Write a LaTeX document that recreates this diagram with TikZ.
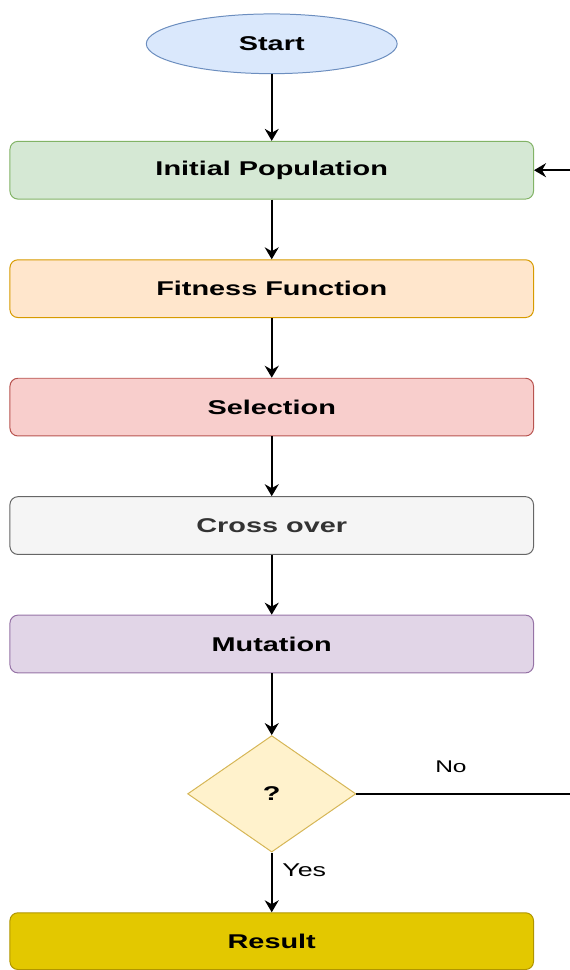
\documentclass[tikz,border=0pt]{standalone}
\usepackage{fontspec}
\usepackage{tikz}
\usetikzlibrary{arrows.meta, positioning, shapes.geometric}
\newfontfamily\flowfont{Liberation Sans}[FakeStretch=1.45]
\definecolor{startfill}{HTML}{DAE8FC}\definecolor{startline}{HTML}{6C8EBF}
\definecolor{greenfill}{HTML}{D5E8D4}\definecolor{greenline}{HTML}{82B366}
\definecolor{orangefill}{HTML}{FFE6CC}\definecolor{orangeline}{HTML}{D79B00}
\definecolor{redfill}{HTML}{F8CECC}\definecolor{redline}{HTML}{B85450}
\definecolor{greyfill}{HTML}{F5F5F5}\definecolor{greyline}{HTML}{666666}
\definecolor{purplefill}{HTML}{E1D5E7}\definecolor{purpleline}{HTML}{9673A6}
\definecolor{checkfill}{HTML}{FFF2CC}\definecolor{checkline}{HTML}{D6B656}
\definecolor{resultfill}{HTML}{E3C800}\definecolor{resultline}{HTML}{B09500}
\begin{document}
\begin{tikzpicture}[>={Stealth[length=6pt,width=7pt]},
  node distance=30pt, line width=1pt,
  main node/.style={rectangle,rounded corners=4pt,draw,line width=0.5pt,
    minimum width=263pt,minimum height=29pt,
    font=\flowfont\fontsize{10}{12}\selectfont\bfseries},
  start node/.style={ellipse,draw,line width=0.5pt,inner sep=0pt,
    minimum width=126pt,minimum height=30pt,
    font=\flowfont\fontsize{10}{12}\selectfont\bfseries},
  check node/.style={diamond,draw,line width=0.5pt,inner sep=0pt,
    minimum width=84.5pt,minimum height=58.5pt,
    font=\flowfont\fontsize{10}{12}\selectfont\bfseries}]
    \node[start node, fill=startfill, draw=startline] (1) {Start};
    \node[main node, fill=greenfill, draw=greenline] (2) [below=33.5pt of 1] {Initial Population};
    \node[main node, fill=orangefill, draw=orangeline] (3) [below=of 2] {Fitness Function};
    \node[main node, fill=redfill, draw=redline] (4) [below=of 3] {Selection};
    \node[main node, fill=greyfill, draw=greyline, text=black!80] (5) [below=of 4] {Cross over};
    \node[main node, fill=purplefill, draw=purpleline] (6) [below=of 5] {Mutation};
    \node[check node, fill=checkfill, draw=checkline] (7) [below=31pt of 6] {?};
    \node[main node, fill=resultfill, draw=resultline, minimum height=28.5pt] (8) [below=of 7] {Result};
    \coordinate[right=18.5pt of 2.east] (back);
    \coordinate[right=108pt of 7.east] (noend);
    \useasboundingbox ([xshift=-136.5pt,yshift=22pt]1.center) rectangle ([xshift=149.5pt,yshift=-463pt]1.center);
    \path[->, every node/.style={font=\flowfont\fontsize{9.3}{11}\selectfont}]
      (1) edge (2)
      (2) edge (3)
      (3) edge (4)
      (4) edge (5)
      (5) edge (6)
      (6) edge (7)
      (7) edge node [right=1.5pt, pos=0.3] {Yes} (8)
      (back) edge (2);
    \path[-, every node/.style={font=\flowfont\fontsize{8.5}{10}\selectfont}]
      (7) edge node [above=7pt, pos=0.44] {No} (noend);
\end{tikzpicture}
\end{document}
